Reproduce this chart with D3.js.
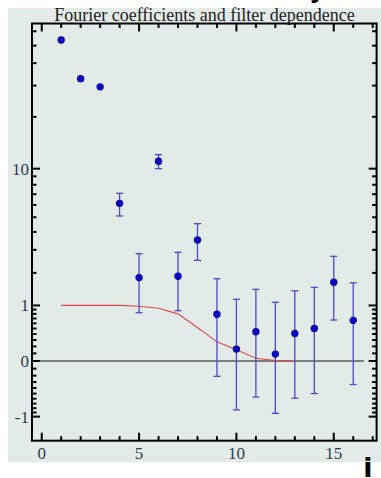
<!DOCTYPE html>
<html><head><meta charset="utf-8">
<script src="https://cdn.jsdelivr.net/npm/d3@7"></script>
<style>body{margin:0;background:#fff}svg{display:block}</style>
</head><body>
<svg id="c" width="381" height="478"></svg>
<script>
const title = "Fourier coefficients and filter dependence";
const idx = [1,2,3,4,5,6,7,8,9,10,11,12,13,14,15,16];
const coef = [53.7,32.8,29.5,6.14,1.83,11.06,1.875,3.52,0.79,0.16,0.44,0.09,0.41,0.50,1.67,0.66];
const errHi = [null,null,null,7.09,2.81,12.1,2.88,4.54,1.79,1.16,1.445,1.08,1.40,1.507,2.69,1.65];
const errLo = [null,null,null,5.10,0.826,10.0,0.872,2.51,-0.21,-0.84,-0.567,-0.92,-0.59,-0.50,0.667,-0.34];
const filtX = [1,2,3,4,5,6,7,8,9,10,11,12,13];
const filtY = [1,1,1,1,0.98,0.93,0.80,0.52,0.27,0.15,0.035,0.005,0];
const xMajor = [0,5,10,15];
const xMinor = d3.range(0,18);
const yMajor = [-1,0,1,10];
const yMinor = [-0.9,-0.8,-0.7,-0.6,-0.5,-0.4,-0.3,-0.2,-0.1,0.1,0.2,0.3,0.4,0.5,0.6,0.7,0.8,0.9,2,3,4,5,6,7,8,9,20,30,40,50,60];

const svg = d3.select("#c");
const L=32, R=376.6, T=23.5, B=440.7;
const x = d3.scaleLinear().domain([-0.5,17.2]).range([L,R]);
const y = d3.scaleSymlog().constant(1).domain([-1.7,66.2]).range([B,T]);

svg.append("rect").attr("x",8).attr("y",8).attr("width",373).attr("height",454).attr("fill","#e3ebe8");

svg.append("text").attr("x",204.5).attr("y",21).attr("text-anchor","middle")
  .attr("font-family","Liberation Serif").attr("font-size",18).attr("fill","#222").text(title);

// zero line
svg.append("line").attr("x1",L).attr("x2",x(16.55)).attr("y1",y(0)).attr("y2",y(0))
  .attr("stroke","#111").attr("stroke-width",1);

// filter line
svg.append("path").datum(filtX.map((d,i)=>[d,filtY[i]]))
  .attr("d",d3.line().x(d=>x(d[0])).y(d=>y(d[1])))
  .attr("fill","none").attr("stroke","#e04848").attr("stroke-width",1.1);

// axes with inward ticks
const ax = svg.append("g");
function xTicks(vals,len){
  vals.forEach(v=>{
    ax.append("line").attr("x1",x(v)).attr("x2",x(v)).attr("y1",B).attr("y2",B-len).attr("stroke","#000").attr("stroke-width",2);
    ax.append("line").attr("x1",x(v)).attr("x2",x(v)).attr("y1",T).attr("y2",T+len).attr("stroke","#000").attr("stroke-width",2);
  });
}
function yTicks(vals,len){
  vals.forEach(v=>{
    ax.append("line").attr("x1",L).attr("x2",L+len).attr("y1",y(v)).attr("y2",y(v)).attr("stroke","#000").attr("stroke-width",2);
    ax.append("line").attr("x1",R).attr("x2",R-len).attr("y1",y(v)).attr("y2",y(v)).attr("stroke","#000").attr("stroke-width",2);
  });
}
xTicks(xMinor.filter(v=>!xMajor.includes(v)),4.5);
xTicks(xMajor,8);
yTicks(yMinor,4.5);
yTicks(yMajor,8);
ax.append("rect").attr("x",L).attr("y",T).attr("width",R-L).attr("height",B-T)
  .attr("fill","none").attr("stroke","#000").attr("stroke-width",2);

xMajor.forEach(v=>{
  svg.append("text").attr("x",x(v)).attr("y",459).attr("text-anchor","middle")
    .attr("font-family","Liberation Serif").attr("font-size",17).attr("fill","#2c3c4c").text(v);
});
yMajor.forEach(v=>{
  svg.append("text").attr("x",29).attr("y",y(v)).attr("dy","0.35em").attr("text-anchor","end")
    .attr("font-family","Liberation Serif").attr("font-size",17).attr("fill","#2c3c4c").text(v);
});

// error bars
const eb = svg.append("g").attr("stroke","#4a4acc").attr("stroke-width",1.3);
idx.forEach((d,i)=>{
  if(errHi[i]==null) return;
  const cx=x(d);
  eb.append("line").attr("x1",cx).attr("x2",cx).attr("y1",y(errHi[i])).attr("y2",y(errLo[i]));
  eb.append("line").attr("x1",cx-3.5).attr("x2",cx+3.5).attr("y1",y(errHi[i])).attr("y2",y(errHi[i]));
  eb.append("line").attr("x1",cx-3.5).attr("x2",cx+3.5).attr("y1",y(errLo[i])).attr("y2",y(errLo[i]));
});
svg.append("g").selectAll("circle").data(idx).join("circle")
  .attr("cx",d=>x(d)).attr("cy",(d,i)=>y(coef[i])).attr("r",3.7).attr("fill","#0808b8");

// axis labels
svg.append("text").attr("x",368).attr("y",477).attr("text-anchor","middle")
  .attr("font-family","DejaVu Sans").attr("font-weight","bold").attr("font-size",27).attr("fill","#000").text("i");
svg.append("text").attr("x",317).attr("y",-2).attr("text-anchor","middle")
  .attr("font-family","DejaVu Sans").attr("font-weight","bold").attr("font-size",24).attr("fill","#000").text("y");
</script>
</body></html>
